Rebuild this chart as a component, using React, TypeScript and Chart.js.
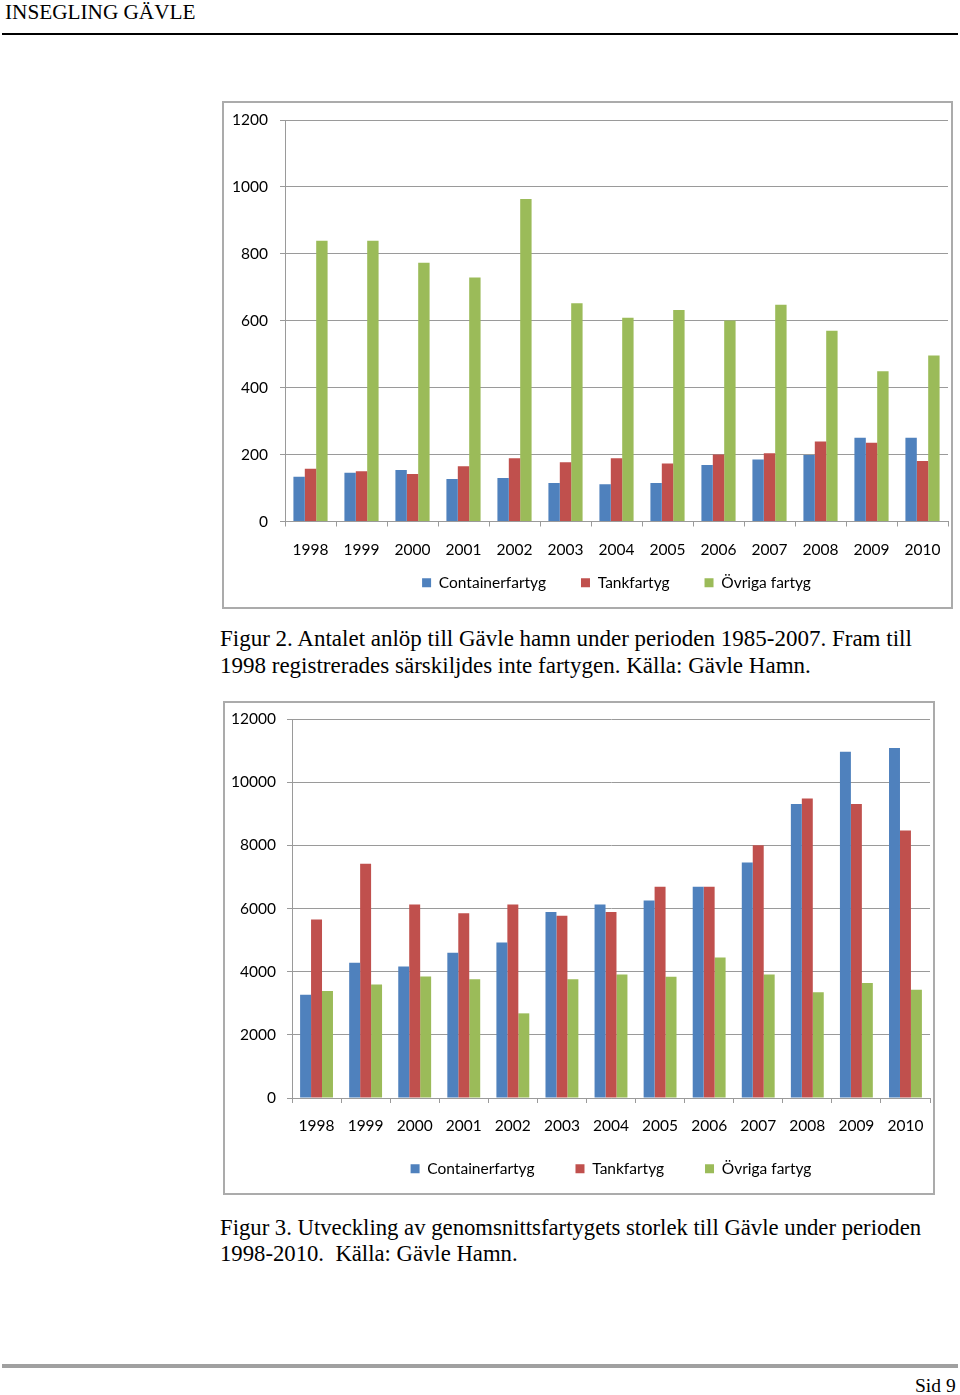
import React, { useEffect, useRef } from 'react';
import { Chart, registerables } from 'chart.js';

Chart.register(...registerables);

// ---------- data ----------
const years = ['1998', '1999', '2000', '2001', '2002', '2003', '2004', '2005', '2006', '2007', '2008', '2009', '2010'];
const seriesNames = ['Containerfartyg', 'Tankfartyg', 'Övriga fartyg'];

// Figur 2: antal anlöp
const anlopContainer = [134, 146, 154, 127, 130, 115, 111, 115, 169, 185, 199, 250, 250];
const anlopTank = [158, 150, 142, 165, 189, 177, 189, 173, 200, 204, 239, 235, 181];
const anlopOvriga = [839, 839, 773, 729, 964, 652, 609, 632, 601, 648, 570, 449, 496];
const anlopTicks = [0, 200, 400, 600, 800, 1000, 1200];

// Figur 3: genomsnittsfartygets storlek
const storlekContainer = [3270, 4280, 4160, 4600, 4920, 5890, 6130, 6250, 6690, 7460, 9310, 10960, 11080];
const storlekTank = [5650, 7420, 6130, 5850, 6130, 5770, 5890, 6690, 6690, 8000, 9480, 9310, 8470];
const storlekOvriga = [3390, 3590, 3850, 3760, 2680, 3760, 3910, 3840, 4450, 3910, 3350, 3640, 3430];
const storlekTicks = [0, 2000, 4000, 6000, 8000, 10000, 12000];

// ---------- styles ----------
const COLORS = ['#4f81bd', '#c0504d', '#9bbb59'];
const GRID = '#9a9a9a';
const FONT = 'Lato, "Open Sans", sans-serif';
const SERIF = '"Liberation Serif", "Times New Roman", serif';

type Geo = {
  left: number; top: number; width: number; height: number;
  areaLeft: number; areaTop: number; padRight: number; padBottom: number;
  xAxisH: number; legendPad: number; xLabelOffset: number; yLabelPad: number;
};

function BarChart(props: { geo: Geo; data: number[][]; ticks: number[] }) {
  const ref = useRef<HTMLCanvasElement | null>(null);
  const { geo, data, ticks } = props;
  const innerW = geo.width - 4;
  const innerH = geo.height - 4;
  useEffect(() => {
    if (!ref.current) return;
    const font = { family: FONT, size: 15.5 };
    const chart = new Chart(ref.current, {
      type: 'bar',
      data: {
        labels: years,
        datasets: data.map((d, i) => ({
          label: seriesNames[i],
          data: d,
          backgroundColor: COLORS[i],
          borderWidth: 0,
          categoryPercentage: 0.67,
          barPercentage: 1.0,
        })),
      },
      options: {
        responsive: false,
        animation: false,
        events: [],
        layout: { padding: { left: 0, top: geo.areaTop, right: geo.padRight, bottom: geo.padBottom } },
        plugins: {
          tooltip: { enabled: false },
          legend: {
            position: 'bottom',
            fullSize: false,
            labels: { font, color: '#000', boxWidth: 9, boxHeight: 9, padding: geo.legendPad },
          },
        },
        scales: {
          x: {
            grid: { drawOnChartArea: false, tickLength: 5, color: GRID, offset: true },
            border: { color: GRID },
            // mirrored labels are not clipped to the (deliberately short) axis box
            ticks: {
              font, color: '#000', mirror: true, padding: -(geo.xLabelOffset + 9.3),
              maxRotation: 0, autoSkip: false,
            },
            afterFit: (s: any) => { s.height = geo.xAxisH; s.paddingLeft = 0; s.paddingRight = 0; },
          },
          y: {
            min: ticks[0],
            max: ticks[ticks.length - 1],
            grid: { color: GRID, tickLength: 5 },
            border: { color: GRID },
            ticks: { font, color: '#000', padding: geo.yLabelPad, callback: (v: any) => String(v) },
            afterBuildTicks: (s: any) => { s.ticks = ticks.map((v) => ({ value: v })); },
            afterFit: (s: any) => { s.width = geo.areaLeft; s.paddingTop = 0; s.paddingBottom = 0; },
          },
        },
      },
    } as any);
    return () => chart.destroy();
  }, []);
  return (
    <div
      style={{
        position: 'absolute', left: geo.left, top: geo.top, width: geo.width, height: geo.height,
        boxSizing: 'border-box', border: '2px solid #ababab', background: '#fff',
      }}
    >
      <canvas ref={ref} width={innerW} height={innerH} style={{ display: 'block' }} />
    </div>
  );
}

const geo1: Geo = {
  left: 222, top: 101, width: 731, height: 508,
  areaLeft: 61, areaTop: 17, padRight: 3, padBottom: 6.5,
  xAxisH: 18.5, legendPad: 35, xLabelOffset: 28, yLabelPad: 12,
};
const geo2: Geo = {
  left: 223, top: 701, width: 712, height: 494,
  areaLeft: 67, areaTop: 16, padRight: 3, padBottom: 6.5,
  xAxisH: 22, legendPad: 41, xLabelOffset: 27.5, yLabelPad: 11,
};

const textStyle = (left: number, top: number, size: number, sx = 1): React.CSSProperties => ({
  position: 'absolute', left, top, fontFamily: SERIF, fontSize: size, color: '#000',
  whiteSpace: 'pre', transform: `scaleX(${sx})`, transformOrigin: 'left top', lineHeight: 1,
});

export default function App() {
  return (
    <div style={{ position: 'absolute', left: 0, top: 0, width: 960, height: 1395, background: '#fff', overflow: 'hidden' }}>
      <div style={textStyle(5, 1, 22, 0.965)}>INSEGLING GÄVLE</div>
      <div style={{ position: 'absolute', left: 2, top: 33, width: 956, height: 2, background: '#000' }} />

      <BarChart geo={geo1} data={[anlopContainer, anlopTank, anlopOvriga]} ticks={anlopTicks} />

      <div style={textStyle(220, 626.5, 23)}>Figur 2. Antalet anlöp till Gävle hamn under perioden 1985-2007. Fram till</div>
      <div style={textStyle(220, 653.5, 23)}>1998 registrerades särskiljdes inte fartygen. Källa: Gävle Hamn.</div>

      <BarChart geo={geo2} data={[storlekContainer, storlekTank, storlekOvriga]} ticks={storlekTicks} />

      <div style={textStyle(220, 1215.5, 23, 0.987)}>Figur 3. Utveckling av genomsnittsfartygets storlek till Gävle under perioden</div>
      <div style={textStyle(220, 1241.5, 23, 0.987)}>1998-2010.  Källa: Gävle Hamn.</div>

      <div style={{ position: 'absolute', left: 2, top: 1364, width: 956, height: 4, background: '#a0a0a0' }} />
      <div style={textStyle(915, 1376, 19.5)}>Sid 9</div>
    </div>
  );
}
